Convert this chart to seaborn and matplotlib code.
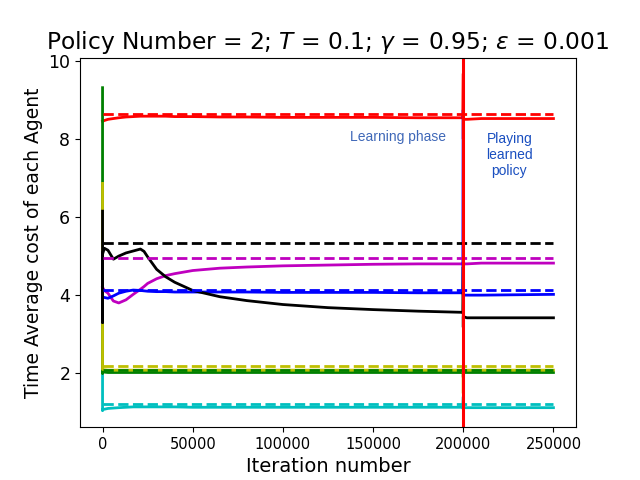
import matplotlib
matplotlib.use("Agg")
import matplotlib.pyplot as plt
import seaborn as sns
import numpy as np

# Iteration grid (repeated values create the vertical reset spikes)
iters = [0, 0, 0, 1000, 3000, 6000, 9000, 13000, 17000, 21000, 23000, 25000, 30000,
         35000, 40000, 50000, 65000, 80000, 100000, 125000, 150000, 175000, 199800,
         200000, 200000, 200000, 202000, 210000, 230000, 250000]

green_cost   = [9.31, 2.00, 2.04, 2.03, 2.02, 2.02, 2.02, 2.02, 2.02, 2.02, 2.02, 2.02, 2.02,
                2.02, 2.02, 2.02, 2.02, 2.02, 2.02, 2.02, 2.02, 2.02, 2.02,
                2.02, 1.90, 2.02, 2.02, 2.02, 2.02, 2.02]
yellow_cost  = [6.86, 2.10, 2.10, 2.09, 2.08, 2.08, 2.08, 2.08, 2.08, 2.08, 2.08, 2.08, 2.08,
                2.08, 2.08, 2.08, 2.08, 2.08, 2.08, 2.08, 2.08, 2.08, 2.08,
                2.15, 1.49, 2.08, 2.08, 2.08, 2.08, 2.08]
black_cost   = [6.15, 3.30, 5.05, 5.20, 5.15, 4.92, 5.00, 5.08, 5.13, 5.18, 5.12, 4.98, 4.66,
                4.47, 4.33, 4.12, 3.96, 3.86, 3.76, 3.68, 3.63, 3.59, 3.56,
                4.72, 3.18, 3.45, 3.42, 3.42, 3.42, 3.42]
red_cost     = [8.45, 8.45, 8.45, 8.47, 8.50, 8.52, 8.54, 8.56, 8.57, 8.58, 8.58, 8.58, 8.58,
                8.58, 8.57, 8.57, 8.56, 8.56, 8.55, 8.55, 8.55, 8.54, 8.54,
                9.67, 8.00, 8.50, 8.50, 8.52, 8.52, 8.52]
magenta_cost = [4.20, 4.20, 4.20, 4.12, 4.05, 3.85, 3.80, 3.88, 4.02, 4.15, 4.22, 4.30, 4.42,
                4.50, 4.55, 4.63, 4.69, 4.72, 4.75, 4.77, 4.79, 4.80, 4.80,
                4.85, 4.78, 4.80, 4.80, 4.82, 4.82, 4.82]
blue_cost    = [3.95, 3.95, 3.95, 3.94, 3.92, 3.98, 4.05, 4.10, 4.13, 4.12, 4.11, 4.10, 4.09,
                4.09, 4.08, 4.08, 4.08, 4.08, 4.07, 4.07, 4.07, 4.06, 4.06,
                8.74, 4.10, 4.00, 4.00, 4.00, 4.01, 4.02]
cyan_cost    = [2.00, 1.05, 1.07, 1.08, 1.10, 1.11, 1.12, 1.13, 1.14, 1.14, 1.14, 1.14, 1.14,
                1.14, 1.14, 1.13, 1.13, 1.13, 1.13, 1.13, 1.13, 1.13, 1.13,
                1.40, 1.08, 1.12, 1.12, 1.12, 1.12, 1.12]

# Optimal (reference) costs shown as dashed lines
dash_iters = [0, 250000]
red_opt, black_opt, magenta_opt, blue_opt = 8.63, 5.34, 4.95, 4.12
yellow_opt, green_opt, cyan_opt = 2.19, 2.09, 1.21

switch_iter = 200000

fig, ax = plt.subplots(figsize=(6.4, 4.8), dpi=100)

solids = [("r", red_cost), ("m", magenta_cost), ("b", blue_cost), ("c", cyan_cost),
          ("g", green_cost), ("y", yellow_cost), ("k", black_cost)]
for col, vals in solids:
    sns.lineplot(x=iters, y=vals, estimator=None, sort=False, color=col,
                 linewidth=2, ax=ax)

dashes = [("r", red_opt), ("k", black_opt), ("m", magenta_opt), ("b", blue_opt),
          ("y", yellow_opt), ("g", green_opt), ("c", cyan_opt)]
for col, v in dashes:
    sns.lineplot(x=dash_iters, y=[v, v], estimator=None, sort=False, color=col,
                 linewidth=2, linestyle="--", ax=ax)

ax.axvline(switch_iter, color="r", linewidth=2.2)

ax.text(164000, 8.04, "Learning phase", ha="center", va="center",
        fontsize=10, color="#3f68b8", family=["Liberation Sans", "DejaVu Sans"])
ax.text(225600, 7.58, "Playing\nlearned\npolicy", ha="center", va="center",
        fontsize=10, color="#1a4fc0", family=["Liberation Sans", "DejaVu Sans"],
        linespacing=1.2)

ax.set_xlim(-12500, 262500)
ax.set_ylim(0.62, 10.08)
ax.set_yticks([2, 4, 6, 8, 10])
ax.set_xticks([0, 50000, 100000, 150000, 200000, 250000])
ax.tick_params(axis="x", labelsize=10.5)
ax.tick_params(axis="y", labelsize=12.5)
ax.set_xlabel("Iteration number", fontsize=14)
ax.set_ylabel("Time Average cost of each Agent", fontsize=13.5)
ax.set_title(r"Policy Number = 2; $T$ = 0.1; $\gamma$ = 0.95; $\varepsilon$ = 0.001",
             fontsize=16.8)

fig.savefig("out.png", dpi=100)
